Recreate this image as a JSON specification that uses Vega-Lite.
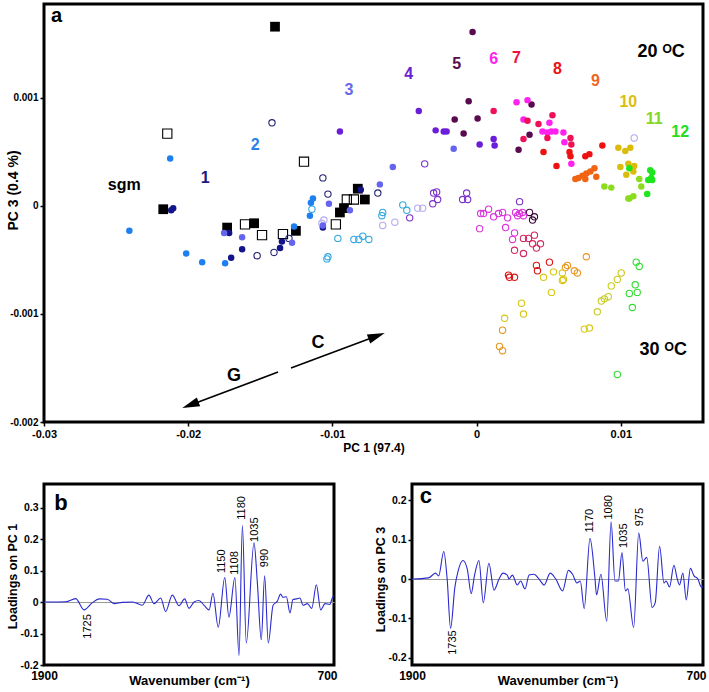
{
  "$schema": "https://vega.github.io/schema/vega-lite/v6.json",
  "padding": {"left": 4, "top": 2, "right": 0, "bottom": 0},
  "background": "white",
  "bounds": "flush",
  "spacing": 62,
  "config": {
    "font": "Liberation Sans",
    "view": {"stroke": "#000000", "strokeWidth": 3},
    "axis": {"domain": false, "grid": false, "ticks": true, "tickSize": 4, "tickColor": "#000000", "tickWidth": 1.5, "labelFontWeight": "bold", "labelFontSize": 11, "labelColor": "#000000", "titleFontWeight": "bold", "titleFontSize": 13, "titleColor": "#000000", "labelPadding": 2, "labelOverlap": false, "labelFlush": false},
    "point": {"opacity": 1},
    "text": {"fontWeight": "bold"}
  },
  "datasets": {
    "pts": [
      {"g":"sgm","t":20,"x":-0.01398,"y":0.00166},{"g":"sgm","t":20,"x":-0.02173,"y":-0.00003},{"g":"sgm","t":20,"x":-0.0173,"y":-0.0002},{"g":"sgm","t":20,"x":-0.01543,"y":-0.00016},{"g":"sgm","t":20,"x":-0.01253,"y":-0.00023},{"g":"sgm","t":20,"x":-0.00824,"y":0.00016},{"g":"sgm","t":20,"x":-0.00775,"y":0.00006},{"g":"sgm","t":20,"x":-0.0092,"y":-0.00002},{"g":"sgm","t":20,"x":-0.00948,"y":-0.00006},
      {"g":"sgm","t":30,"x":-0.02145,"y":0.00067},{"g":"sgm","t":30,"x":-0.01197,"y":0.00041},{"g":"sgm","t":30,"x":-0.01606,"y":-0.00017},{"g":"sgm","t":30,"x":-0.01488,"y":-0.00027},{"g":"sgm","t":30,"x":-0.01343,"y":-0.00026},{"g":"sgm","t":30,"x":-0.009,"y":0.00006},{"g":"sgm","t":30,"x":-0.00851,"y":0.00006},{"g":"sgm","t":30,"x":-0.00976,"y":-0.00017},
      {"g":"1","t":20,"x":-0.02118,"y":-0.00004},{"g":"1","t":20,"x":-0.02104,"y":-0.00002},{"g":"1","t":20,"x":-0.01716,"y":-0.00025},{"g":"1","t":20,"x":-0.01626,"y":-0.0004},{"g":"1","t":20,"x":-0.01702,"y":-0.00048},{"g":"1","t":20,"x":-0.01363,"y":-0.00039},{"g":"1","t":20,"x":-0.0135,"y":-0.00033},{"g":"1","t":20,"x":-0.01066,"y":-0.0002},{"g":"1","t":20,"x":-0.00803,"y":0.00015},
      {"g":"1","t":30,"x":-0.01522,"y":-0.00046},{"g":"1","t":30,"x":-0.01405,"y":-0.00043},{"g":"1","t":30,"x":-0.01301,"y":-0.0003},{"g":"1","t":30,"x":-0.01419,"y":0.00077},{"g":"1","t":30,"x":-0.01066,"y":0.00026},{"g":"1","t":30,"x":-0.01031,"y":0.00011},{"g":"1","t":30,"x":-0.00685,"y":0.00012},
      {"g":"2","t":20,"x":-0.02125,"y":0.00044},{"g":"2","t":20,"x":-0.02408,"y":-0.00023},{"g":"2","t":20,"x":-0.02014,"y":-0.00044},{"g":"2","t":20,"x":-0.01903,"y":-0.00052},{"g":"2","t":20,"x":-0.01744,"y":-0.00053},{"g":"2","t":20,"x":-0.01266,"y":-0.00019},{"g":"2","t":20,"x":-0.01135,"y":0.00007},{"g":"2","t":20,"x":-0.01149,"y":0.00003},{"g":"2","t":20,"x":-0.01156,"y":-0.00009},
      {"g":"2","t":30,"x":-0.01142,"y":-0.00003},{"g":"2","t":30,"x":-0.00962,"y":-0.0003},{"g":"2","t":30,"x":-0.00851,"y":-0.00031},{"g":"2","t":30,"x":-0.00817,"y":-0.00031},{"g":"2","t":30,"x":-0.00789,"y":-0.00028},{"g":"2","t":30,"x":-0.00747,"y":-0.00031},{"g":"2","t":30,"x":-0.01031,"y":-0.00047},{"g":"2","t":30,"x":-0.01038,"y":-0.00049},{"g":"2","t":30,"x":-0.00512,"y":0.00001},{"g":"2","t":30,"x":-0.00484,"y":-0.00004},{"g":"2","t":30,"x":-0.00657,"y":-0.00009},{"g":"2","t":30,"x":-0.00651,"y":-0.00006},
      {"g":"3","t":20,"x":-0.01751,"y":-0.00025},{"g":"3","t":20,"x":-0.01626,"y":-0.00029},{"g":"3","t":20,"x":-0.0128,"y":-0.00034},{"g":"3","t":20,"x":-0.01024,"y":0.00002},{"g":"3","t":20,"x":-0.01066,"y":-0.00018},{"g":"3","t":20,"x":-0.00879,"y":-0.00004},{"g":"3","t":20,"x":-0.00671,"y":0.0002},{"g":"3","t":20,"x":-0.00581,"y":0.00036},{"g":"3","t":20,"x":-0.00159,"y":0.00053},
      {"g":"3","t":30,"x":-0.01059,"y":-0.00013},{"g":"3","t":30,"x":-0.00651,"y":-0.00018},{"g":"3","t":30,"x":-0.00567,"y":-0.00015},{"g":"3","t":30,"x":-0.00408,"y":-0.00002},{"g":"3","t":30,"x":-0.00374,"y":-0.00002},{"g":"3","t":30,"x":0.01093,"y":0.00063},{"g":"3","t":30,"x":-0.01073,"y":-0.00016},
      {"g":"4","t":20,"x":-0.00948,"y":0.00069},{"g":"4","t":20,"x":-0.00401,"y":0.00088},{"g":"4","t":20,"x":-0.00284,"y":0.0007},{"g":"4","t":20,"x":-0.00228,"y":0.00069},{"g":"4","t":20,"x":-0.00208,"y":0.00069},{"g":"4","t":20,"x":0.00021,"y":0.00057},{"g":"4","t":20,"x":0.00118,"y":0.00062},{"g":"4","t":20,"x":0.00125,"y":0.00056},
      {"g":"4","t":30,"x":-0.0036,"y":0.00039},{"g":"4","t":30,"x":-0.00464,"y":-0.00011},{"g":"4","t":30,"x":-0.00298,"y":0.00012},{"g":"4","t":30,"x":-0.00277,"y":0.00013},{"g":"4","t":30,"x":-0.0027,"y":0.00006},{"g":"4","t":30,"x":-0.00304,"y":0.00002},{"g":"4","t":30,"x":-0.00097,"y":0.00006},{"g":"4","t":30,"x":-0.00069,"y":0.00012},{"g":"4","t":30,"x":-0.00062,"y":0.00006},{"g":"4","t":30,"x":0.00298,"y":0.00004},
      {"g":"5","t":20,"x":-0.00028,"y":0.00161},{"g":"5","t":20,"x":-0.00055,"y":0.00097},{"g":"5","t":20,"x":-0.00152,"y":0.0008},{"g":"5","t":20,"x":0.00007,"y":0.00081},{"g":"5","t":20,"x":-0.0009,"y":0.00067},{"g":"5","t":20,"x":0.00381,"y":0.00094},{"g":"5","t":20,"x":0.00367,"y":0.00066},{"g":"5","t":20,"x":0.00291,"y":0.00052},
      {"g":"5","t":30,"x":0.00367,"y":-0.00006},{"g":"5","t":30,"x":0.00401,"y":-0.0001},{"g":"5","t":30,"x":0.00388,"y":-0.00013},
      {"g":"6","t":20,"x":0.00277,"y":0.00096},{"g":"6","t":20,"x":0.00353,"y":0.00098},{"g":"6","t":20,"x":0.00325,"y":0.0008},{"g":"6","t":20,"x":0.00505,"y":0.00077},{"g":"6","t":20,"x":0.00457,"y":0.00069},{"g":"6","t":20,"x":0.00491,"y":0.00068},{"g":"6","t":20,"x":0.00519,"y":0.00069},{"g":"6","t":20,"x":0.00547,"y":0.00069},{"g":"6","t":20,"x":0.00602,"y":0.00068},{"g":"6","t":20,"x":0.00609,"y":0.00059},{"g":"6","t":20,"x":0.00657,"y":0.00039},
      {"g":"6","t":30,"x":0.00028,"y":-0.00007},{"g":"6","t":30,"x":0.00048,"y":-0.00007},{"g":"6","t":30,"x":0.00083,"y":-0.00003},{"g":"6","t":30,"x":0.00118,"y":-0.0001},{"g":"6","t":30,"x":0.00152,"y":-0.00007},{"g":"6","t":30,"x":0.0018,"y":-0.00006},{"g":"6","t":30,"x":0.00215,"y":-0.00011},{"g":"6","t":30,"x":0.0027,"y":-0.00006},{"g":"6","t":30,"x":0.00284,"y":-0.00009},{"g":"6","t":30,"x":0.00298,"y":-0.00007},{"g":"6","t":30,"x":0.00318,"y":-0.00006},{"g":"6","t":30,"x":0.00325,"y":-0.00009},{"g":"6","t":30,"x":0.00021,"y":-0.00021},{"g":"6","t":30,"x":0.00201,"y":-0.0002},{"g":"6","t":30,"x":0.00263,"y":-0.00025},{"g":"6","t":30,"x":0.00249,"y":-0.00031},
      {"g":"7","t":20,"x":0.00118,"y":0.00088},{"g":"7","t":20,"x":0.00353,"y":0.00079},{"g":"7","t":20,"x":0.00429,"y":0.00076},{"g":"7","t":20,"x":0.00526,"y":0.00084},{"g":"7","t":20,"x":0.00491,"y":0.00063},{"g":"7","t":20,"x":0.00325,"y":0.00062},{"g":"7","t":20,"x":0.00651,"y":0.00063},{"g":"7","t":20,"x":0.00657,"y":0.00057},
      {"g":"7","t":30,"x":0.00325,"y":-0.0003},{"g":"7","t":30,"x":0.0036,"y":-0.0003},{"g":"7","t":30,"x":0.00401,"y":-0.00027},{"g":"7","t":30,"x":0.00388,"y":-0.00035},{"g":"7","t":30,"x":0.00415,"y":-0.00039},{"g":"7","t":30,"x":0.00443,"y":-0.00035},{"g":"7","t":30,"x":0.00263,"y":-0.00041},{"g":"7","t":30,"x":0.00325,"y":-0.00044},
      {"g":"8","t":20,"x":0.00464,"y":0.0005},{"g":"8","t":20,"x":0.00644,"y":0.0005},{"g":"8","t":20,"x":0.00651,"y":0.00046},{"g":"8","t":20,"x":0.00554,"y":0.00037},{"g":"8","t":20,"x":0.00754,"y":0.00046},{"g":"8","t":20,"x":0.00782,"y":0.00048},{"g":"8","t":20,"x":0.00872,"y":0.00056},
      {"g":"8","t":30,"x":0.00415,"y":-0.00055},{"g":"8","t":30,"x":0.00422,"y":-0.0006},{"g":"8","t":30,"x":0.00505,"y":-0.00052},{"g":"8","t":30,"x":0.00221,"y":-0.00064},{"g":"8","t":30,"x":0.00228,"y":-0.00066},{"g":"8","t":30,"x":0.00263,"y":-0.00066},
      {"g":"9","t":20,"x":0.00685,"y":0.00025},{"g":"9","t":20,"x":0.00734,"y":0.00028},{"g":"9","t":20,"x":0.00761,"y":0.0003},{"g":"9","t":20,"x":0.00789,"y":0.00032},{"g":"9","t":20,"x":0.00817,"y":0.00035},{"g":"9","t":20,"x":0.0083,"y":0.00027},{"g":"9","t":20,"x":0.00754,"y":0.00025},{"g":"9","t":20,"x":0.00706,"y":0.00026},
      {"g":"9","t":30,"x":0.00616,"y":-0.00057},{"g":"9","t":30,"x":0.0063,"y":-0.00055},{"g":"9","t":30,"x":0.00678,"y":-0.0006},{"g":"9","t":30,"x":0.00699,"y":-0.00062},{"g":"9","t":30,"x":0.00761,"y":-0.00047},{"g":"9","t":30,"x":0.00159,"y":-0.0013},{"g":"9","t":30,"x":0.0018,"y":-0.00134},{"g":"9","t":30,"x":0.0018,"y":-0.00115},
      {"g":"10","t":20,"x":0.00983,"y":0.00054},{"g":"10","t":20,"x":0.01031,"y":0.00051},{"g":"10","t":20,"x":0.01066,"y":0.00054},{"g":"10","t":20,"x":0.00997,"y":0.00036},{"g":"10","t":20,"x":0.01052,"y":0.00039},{"g":"10","t":20,"x":0.01093,"y":0.00037},{"g":"10","t":20,"x":0.01038,"y":0.00029},{"g":"10","t":20,"x":0.01087,"y":0.00032},
      {"g":"10","t":30,"x":0.00533,"y":-0.00061},{"g":"10","t":30,"x":0.00595,"y":-0.00062},{"g":"10","t":30,"x":0.00595,"y":-0.00069},{"g":"10","t":30,"x":0.00602,"y":-0.00068},{"g":"10","t":30,"x":0.00464,"y":-0.00066},{"g":"10","t":30,"x":0.00519,"y":-0.0008},{"g":"10","t":30,"x":0.00311,"y":-0.0009},{"g":"10","t":30,"x":0.00325,"y":-0.001},{"g":"10","t":30,"x":0.00194,"y":-0.00104},{"g":"10","t":30,"x":0.00747,"y":-0.00114},{"g":"10","t":30,"x":0.00782,"y":-0.00113},
      {"g":"11","t":20,"x":0.00886,"y":0.00018},{"g":"11","t":20,"x":0.00934,"y":0.00017},{"g":"11","t":20,"x":0.01128,"y":0.00025},{"g":"11","t":20,"x":0.01142,"y":0.00018},{"g":"11","t":20,"x":0.01059,"y":0.00007},{"g":"11","t":20,"x":0.01087,"y":0.00009},{"g":"11","t":20,"x":0.01052,"y":0.00007},
      {"g":"11","t":30,"x":0.00837,"y":-0.00098},{"g":"11","t":30,"x":0.00865,"y":-0.00088},{"g":"11","t":30,"x":0.00886,"y":-0.00086},{"g":"11","t":30,"x":0.00913,"y":-0.00084},{"g":"11","t":30,"x":0.00934,"y":-0.00074},{"g":"11","t":30,"x":0.00976,"y":-0.00068},{"g":"11","t":30,"x":0.01003,"y":-0.00062},
      {"g":"12","t":20,"x":0.01204,"y":0.00033},{"g":"12","t":20,"x":0.01211,"y":0.00026},{"g":"12","t":20,"x":0.0119,"y":0.00024},{"g":"12","t":20,"x":0.01218,"y":0.00024},{"g":"12","t":20,"x":0.01183,"y":0.00011},{"g":"12","t":20,"x":0.01059,"y":0.00035},{"g":"12","t":20,"x":0.01218,"y":0.00031},
      {"g":"12","t":30,"x":0.01107,"y":-0.00052},{"g":"12","t":30,"x":0.01128,"y":-0.00056},{"g":"12","t":30,"x":0.011,"y":-0.00073},{"g":"12","t":30,"x":0.01059,"y":-0.00081},{"g":"12","t":30,"x":0.01114,"y":-0.0008},{"g":"12","t":30,"x":0.0108,"y":-0.00094},{"g":"12","t":30,"x":0.00976,"y":-0.00156}
    ],
    "grpLabels": [
      {"g":"sgm","x":-0.02443,"y":0.000194,"txt":"sgm"},
      {"g":"1","x":-0.01882,"y":0.000259,"txt":"1"},
      {"g":"2","x":-0.01536,"y":0.000565,"txt":"2"},
      {"g":"3","x":-0.00886,"y":0.001074,"txt":"3"},
      {"g":"4","x":-0.00471,"y":0.001222,"txt":"4"},
      {"g":"5","x":-0.00138,"y":0.001315,"txt":"5"},
      {"g":"6","x":0.00118,"y":0.001361,"txt":"6"},
      {"g":"7","x":0.00277,"y":0.00137,"txt":"7"},
      {"g":"8","x":0.00561,"y":0.001269,"txt":"8"},
      {"g":"9","x":0.00824,"y":0.001157,"txt":"9"},
      {"g":"10","x":0.01052,"y":0.000963,"txt":"10"},
      {"g":"11","x":0.01232,"y":0.000806,"txt":"11"},
      {"g":"12","x":0.01412,"y":0.000685,"txt":"12"}
    ],
    "notes": [
      {"x":0.0128,"y":0.001426,"txt":"20 ᴼC"},
      {"x":0.01294,"y":-0.001333,"txt":"30 ᴼC"},
      {"x":-0.011,"y":-0.001269,"txt":"C"},
      {"x":-0.01682,"y":-0.001574,"txt":"G"}
    ],
    "panelA": [{"x":-0.02913,"y":0.001759,"txt":"a"}],
    "arr": [
      {"x":-0.01377,"y":-0.001537,"x2":-0.01985,"y2":-0.001842},
      {"x":-0.01287,"y":-0.0015,"x2":-0.00693,"y2":-0.001204}
    ],
    "heads": [
      {"x":-0.01985,"y":-0.001842,"dir":"G"},
      {"x":-0.00693,"y":-0.001204,"dir":"C"}
    ],
    "specB": [
      {"w":1900,"v":0},{"w":1810,"v":0.001},{"w":1769,"v":0.011},{"w":1734,"v":-0.025},{"w":1700,"v":-0.002},{"w":1672,"v":0.01},{"w":1638,"v":0.009},{"w":1610,"v":-0.005},{"w":1576,"v":-0.001},{"w":1534,"v":0},{"w":1493,"v":-0.01},{"w":1466,"v":0.022},{"w":1445,"v":-0.005},{"w":1417,"v":0.013},{"w":1397,"v":-0.03},{"w":1369,"v":0.022},{"w":1341,"v":-0.012},{"w":1318,"v":0.01},{"w":1300,"v":-0.02},{"w":1279,"v":0},{"w":1259,"v":0.005},{"w":1238,"v":-0.01},{"w":1217,"v":-0.025},{"w":1201,"v":0.028},{"w":1179,"v":-0.08},{"w":1152,"v":0.078},{"w":1135,"v":-0.048},{"w":1110,"v":0.078},{"w":1093,"v":-0.17},{"w":1079,"v":0.243},{"w":1063,"v":-0.13},{"w":1031,"v":0.188},{"w":1017,"v":0.06},{"w":1001,"v":-0.12},{"w":987,"v":0.083},{"w":972,"v":-0.13},{"w":952,"v":-0.01},{"w":935,"v":0.002},{"w":921,"v":0.025},{"w":911,"v":0.015},{"w":897,"v":0.017},{"w":882,"v":-0.035},{"w":870,"v":0.008},{"w":855,"v":0.01},{"w":841,"v":0.013},{"w":828,"v":-0.01},{"w":810,"v":-0.005},{"w":792,"v":-0.02},{"w":773,"v":0.055},{"w":755,"v":-0.025},{"w":737,"v":-0.005},{"w":718,"v":-0.008},{"w":703,"v":0.018},{"w":700,"v":0.018}
    ],
    "specC": [
      {"w":1900,"v":0},{"w":1831,"v":0.003},{"w":1803,"v":0.015},{"w":1790,"v":0.008},{"w":1769,"v":0.07},{"w":1755,"v":0},{"w":1741,"v":-0.125},{"w":1723,"v":-0.02},{"w":1710,"v":0.02},{"w":1690,"v":0.047},{"w":1672,"v":0.025},{"w":1656,"v":-0.037},{"w":1642,"v":0.01},{"w":1624,"v":0.047},{"w":1606,"v":-0.06},{"w":1583,"v":0.04},{"w":1562,"v":-0.028},{"w":1541,"v":0},{"w":1525,"v":0.015},{"w":1507,"v":0.01},{"w":1500,"v":0},{"w":1486,"v":0.01},{"w":1466,"v":-0.015},{"w":1452,"v":-0.005},{"w":1434,"v":-0.025},{"w":1417,"v":0.01},{"w":1397,"v":0.012},{"w":1376,"v":0},{"w":1355,"v":-0.015},{"w":1330,"v":0.015},{"w":1307,"v":0},{"w":1279,"v":-0.03},{"w":1255,"v":0.022},{"w":1238,"v":0.012},{"w":1220,"v":-0.01},{"w":1206,"v":-0.005},{"w":1190,"v":-0.075},{"w":1166,"v":0.103},{"w":1146,"v":0.005},{"w":1139,"v":-0.04},{"w":1121,"v":0.012},{"w":1097,"v":-0.107},{"w":1079,"v":0.145},{"w":1063,"v":-0.005},{"w":1049,"v":-0.005},{"w":1034,"v":0.067},{"w":1020,"v":-0.03},{"w":1010,"v":-0.025},{"w":986,"v":-0.123},{"w":965,"v":0.117},{"w":948,"v":0.045},{"w":932,"v":0.055},{"w":910,"v":-0.072},{"w":897,"v":-0.06},{"w":879,"v":0.083},{"w":861,"v":-0.01},{"w":852,"v":-0.005},{"w":838,"v":-0.02},{"w":820,"v":0.035},{"w":806,"v":0},{"w":797,"v":-0.015},{"w":783,"v":0.015},{"w":769,"v":-0.053},{"w":752,"v":0.027},{"w":737,"v":0.008},{"w":721,"v":0},{"w":707,"v":-0.02},{"w":700,"v":-0.02}
    ],
    "peaksB": [
      {"w":1717,"v":-0.0775,"txt":"1725"},{"w":1165,"v":0.1295,"txt":"1150"},{"w":1110,"v":0.124,"txt":"1108"},{"w":1079,"v":0.299,"txt":"1180"},{"w":1027,"v":0.23,"txt":"1035"},{"w":987,"v":0.14,"txt":"990"}
    ],
    "peaksC": [
      {"w":1732,"v":-0.161,"txt":"1735"},{"w":1166,"v":0.148,"txt":"1170"},{"w":1086,"v":0.182,"txt":"1080"},{"w":1024,"v":0.11,"txt":"1035"},{"w":959,"v":0.157,"txt":"975"}
    ],
    "letterB": [{"w":1830,"v":0.315,"txt":"b"}],
    "letterC": [{"w":1843,"v":0.21,"txt":"c"}]
  },
  "vconcat": [
    {
      "width": 659,
      "height": 418,
      "resolve": {"scale": {"color": "independent"}},
      "layer": [
        {
          "mark": {"type": "rule", "color": "#9a9a9a", "strokeWidth": 1.2},
          "encoding": {"x": {"datum": 0, "type": "quantitative", "scale": {"domain": [-0.03, 0.0157], "nice": false, "zero": false}}}
        },
        {
          "mark": {"type": "rule", "color": "#9a9a9a", "strokeWidth": 1.2},
          "encoding": {"y": {"datum": 0, "type": "quantitative", "scale": {"domain": [-0.002, 0.00187], "nice": false, "zero": false}}}
        },
        {
          "data": {"name": "pts"},
          "transform": [{"filter": "datum.t == 30"}],
          "mark": {"type": "point", "filled": false, "strokeWidth": 1.1, "opacity": 1},
          "encoding": {
            "x": {"field": "x", "type": "quantitative", "scale": {"domain": [-0.03, 0.0157], "nice": false, "zero": false},
              "axis": {"values": [-0.03, -0.02, -0.01, 0, 0.01], "labelOverlap": false, "labelFlush": false, "labelExpr": "datum.value == 0 ? '0' : replace(format(datum.value, '.2f'), '\u2212', '-')", "title": "PC 1 (97.4)", "titleFontSize": 12, "titlePadding": 3}},
            "y": {"field": "y", "type": "quantitative", "scale": {"domain": [-0.002, 0.00187], "nice": false, "zero": false},
              "axis": {"values": [-0.002, -0.001, 0, 0.001], "labelOverlap": false, "labelFontSize": 10, "labelExpr": "datum.value == 0 ? '0' : replace(format(datum.value, '.3f'), '\u2212', '-')", "title": "PC 3 (0.4 %)", "titleFontSize": 14, "titleX": -31, "titleY": 186, "titleBaseline": "middle", "titleAlign": "center", "titleAngle": 270}},
            "color": {"field": "g", "type": "nominal", "legend": null,
              "scale": {"domain": ["sgm","1","2","3","4","5","6","7","8","9","10","11","12"], "range": ["#000000","#22226e","#30a8e0","#b4aaf0","#7a30c8","#3c0a3c","#dc32dc","#d22864","#dc1414","#e89622","#d8c814","#c8cc20","#32dc32"]}},
            "shape": {"condition": {"test": "datum.g === 'sgm'", "value": "square"}, "value": "circle"},
            "size": {"condition": {"test": "datum.g === 'sgm'", "value": 85}, "value": 40}
          }
        },
        {
          "data": {"name": "pts"},
          "transform": [{"filter": "datum.t == 20"}],
          "mark": {"type": "point", "filled": true, "opacity": 1},
          "encoding": {
            "x": {"field": "x", "type": "quantitative", "scale": {"domain": [-0.03, 0.0157], "nice": false, "zero": false}},
            "y": {"field": "y", "type": "quantitative", "scale": {"domain": [-0.002, 0.00187], "nice": false, "zero": false}},
            "color": {"field": "g", "type": "nominal", "legend": null,
              "scale": {"domain": ["sgm","1","2","3","4","5","6","7","8","9","10","11","12"], "range": ["#000000","#14148a","#1e80f0","#6464ee","#6a1ed8","#5a0a4e","#ff22ee","#ee1158","#ee1111","#f06414","#dcbc0a","#8cdc1e","#1ee61e"]}},
            "shape": {"condition": {"test": "datum.g === 'sgm'", "value": "square"}, "value": "circle"},
            "size": {"condition": {"test": "datum.g === 'sgm'", "value": 95}, "value": 42}
          }
        },
        {
          "data": {"name": "arr"},
          "mark": {"type": "rule", "color": "#000000", "strokeWidth": 1.6},
          "encoding": {
            "x": {"field": "x", "type": "quantitative"},
            "y": {"field": "y", "type": "quantitative"},
            "x2": {"field": "x2"},
            "y2": {"field": "y2"}
          }
        },
        {
          "data": {"name": "heads"},
          "mark": {"type": "point", "filled": true, "opacity": 1, "color": "#000000", "shape": "M0,-1L0.55,1L-0.55,1Z", "size": 300},
          "encoding": {
            "x": {"field": "x", "type": "quantitative"},
            "y": {"field": "y", "type": "quantitative"},
            "angle": {"condition": {"test": "datum.dir === 'G'", "value": 249.4}, "value": 69.6}
          }
        },
        {
          "data": {"name": "grpLabels"},
          "mark": {"type": "text", "fontSize": 16, "fontWeight": "bold", "align": "center", "baseline": "middle"},
          "encoding": {
            "x": {"field": "x", "type": "quantitative"},
            "y": {"field": "y", "type": "quantitative"},
            "text": {"field": "txt"},
            "color": {"field": "g", "type": "nominal", "legend": null,
              "scale": {"domain": ["sgm","1","2","3","4","5","6","7","8","9","10","11","12"], "range": ["#000000","#1a1a80","#2a80e8","#6868e8","#6a22d0","#5a0a4e","#ff22ee","#ee1144","#ee1111","#ee6622","#dcbc10","#80d820","#22dd22"]}}
          }
        },
        {
          "data": {"name": "notes"},
          "mark": {"type": "text", "fontSize": 18, "fontWeight": "bold", "align": "center", "baseline": "middle", "color": "#000000"},
          "encoding": {
            "x": {"field": "x", "type": "quantitative"},
            "y": {"field": "y", "type": "quantitative"},
            "text": {"field": "txt"}
          }
        },
        {
          "data": {"name": "panelA"},
          "mark": {"type": "text", "fontSize": 20, "fontWeight": "bold", "align": "center", "baseline": "middle", "color": "#000000"},
          "encoding": {
            "x": {"field": "x", "type": "quantitative"},
            "y": {"field": "y", "type": "quantitative"},
            "text": {"field": "txt"}
          }
        }
      ]
    },
    {
      "hconcat": [
        {
          "width": 290,
          "height": 181,
          "resolve": {"axis": {"x": "independent", "y": "independent"}},
          "layer": [
            {
              "data": {"name": "specB"},
              "mark": {"type": "line", "color": "#2a2ad0", "strokeWidth": 1.1, "interpolate": "monotone"},
              "encoding": {
                "x": {"field": "w", "type": "quantitative", "scale": {"domain": [700, 1900], "reverse": true, "nice": false, "zero": false},
                  "axis": {"values": [1900, 700], "format": "d", "ticks": false, "labelFontSize": 12, "labelPadding": 5, "labelOverlap": false, "labelFlush": false, "labelAlign": {"condition": {"test": "datum.value == 700", "value": "right"}, "value": "center"}, "labelOffset": {"condition": {"test": "datum.value == 700", "value": 3}, "value": 0}, "title": "Wavenumber (cm⁻¹)", "titleFontSize": 13, "titleY": 9, "titleBaseline": "top"}},
                "y": {"field": "v", "type": "quantitative", "scale": {"domain": [-0.2, 0.375], "nice": false, "zero": false},
                  "axis": {"values": [-0.2, -0.1, 0, 0.1, 0.2, 0.3], "labelOverlap": false, "labelFontSize": 10.5, "labelExpr": "datum.value == 0 ? '0' : replace(format(datum.value, '.1f'), '\u2212', '-')", "grid": true, "gridColor": "#9a9a9a", "gridWidth": 1, "gridOpacity": {"condition": {"test": "datum.value == 0", "value": 1}, "value": 0}, "title": "Loadings on PC 1", "titleFontSize": 12.5, "titleX": -32, "titleY": 92, "titleBaseline": "middle", "titleAlign": "center", "titleAngle": 270}}
              }
            },
            {
              "data": {"name": "peaksB"},
              "mark": {"type": "text", "fontSize": 11, "fontWeight": "normal", "angle": 270, "align": "center", "baseline": "middle", "color": "#000000"},
              "encoding": {
                "x": {"field": "w", "type": "quantitative", "axis": null},
                "y": {"field": "v", "type": "quantitative", "axis": null},
                "text": {"field": "txt"}
              }
            },
            {
              "data": {"name": "letterB"},
              "mark": {"type": "text", "fontSize": 22, "fontWeight": "bold", "align": "center", "baseline": "middle", "color": "#000000"},
              "encoding": {
                "x": {"field": "w", "type": "quantitative", "axis": null},
                "y": {"field": "v", "type": "quantitative", "axis": null},
                "text": {"field": "txt"}
              }
            }
          ]
        },
        {
          "width": 291,
          "height": 181,
          "resolve": {"axis": {"x": "independent", "y": "independent"}},
          "layer": [
            {
              "data": {"name": "specC"},
              "mark": {"type": "line", "color": "#2a2ad0", "strokeWidth": 1.1, "interpolate": "monotone"},
              "encoding": {
                "x": {"field": "w", "type": "quantitative", "scale": {"domain": [700, 1900], "reverse": true, "nice": false, "zero": false},
                  "axis": {"values": [1900, 700], "format": "d", "ticks": false, "labelFontSize": 12, "labelPadding": 5, "labelOverlap": false, "labelFlush": false, "labelAlign": {"condition": {"test": "datum.value == 700", "value": "right"}, "value": "center"}, "labelOffset": {"condition": {"test": "datum.value == 700", "value": 3}, "value": 0}, "title": "Wavenumber (cm⁻¹)", "titleFontSize": 13, "titleY": 9, "titleBaseline": "top"}},
                "y": {"field": "v", "type": "quantitative", "scale": {"domain": [-0.218, 0.241], "nice": false, "zero": false},
                  "axis": {"values": [-0.2, -0.1, 0, 0.1, 0.2], "labelOverlap": false, "labelFontSize": 10.5, "labelExpr": "datum.value == 0 ? '0' : replace(format(datum.value, '.1f'), '\u2212', '-')", "grid": true, "gridColor": "#9a9a9a", "gridWidth": 1, "gridOpacity": {"condition": {"test": "datum.value == 0", "value": 1}, "value": 0}, "title": "Loadings on PC 3", "titleFontSize": 12.5, "titleX": -32, "titleY": 95, "titleBaseline": "middle", "titleAlign": "center", "titleAngle": 270}}
              }
            },
            {
              "data": {"name": "peaksC"},
              "mark": {"type": "text", "fontSize": 11, "fontWeight": "normal", "angle": 270, "align": "center", "baseline": "middle", "color": "#000000"},
              "encoding": {
                "x": {"field": "w", "type": "quantitative", "axis": null},
                "y": {"field": "v", "type": "quantitative", "axis": null},
                "text": {"field": "txt"}
              }
            },
            {
              "data": {"name": "letterC"},
              "mark": {"type": "text", "fontSize": 22, "fontWeight": "bold", "align": "center", "baseline": "middle", "color": "#000000"},
              "encoding": {
                "x": {"field": "w", "type": "quantitative", "axis": null},
                "y": {"field": "v", "type": "quantitative", "axis": null},
                "text": {"field": "txt"}
              }
            }
          ]
        }
      ],
      "spacing": 78,
      "bounds": "flush"
    }
  ]
}
